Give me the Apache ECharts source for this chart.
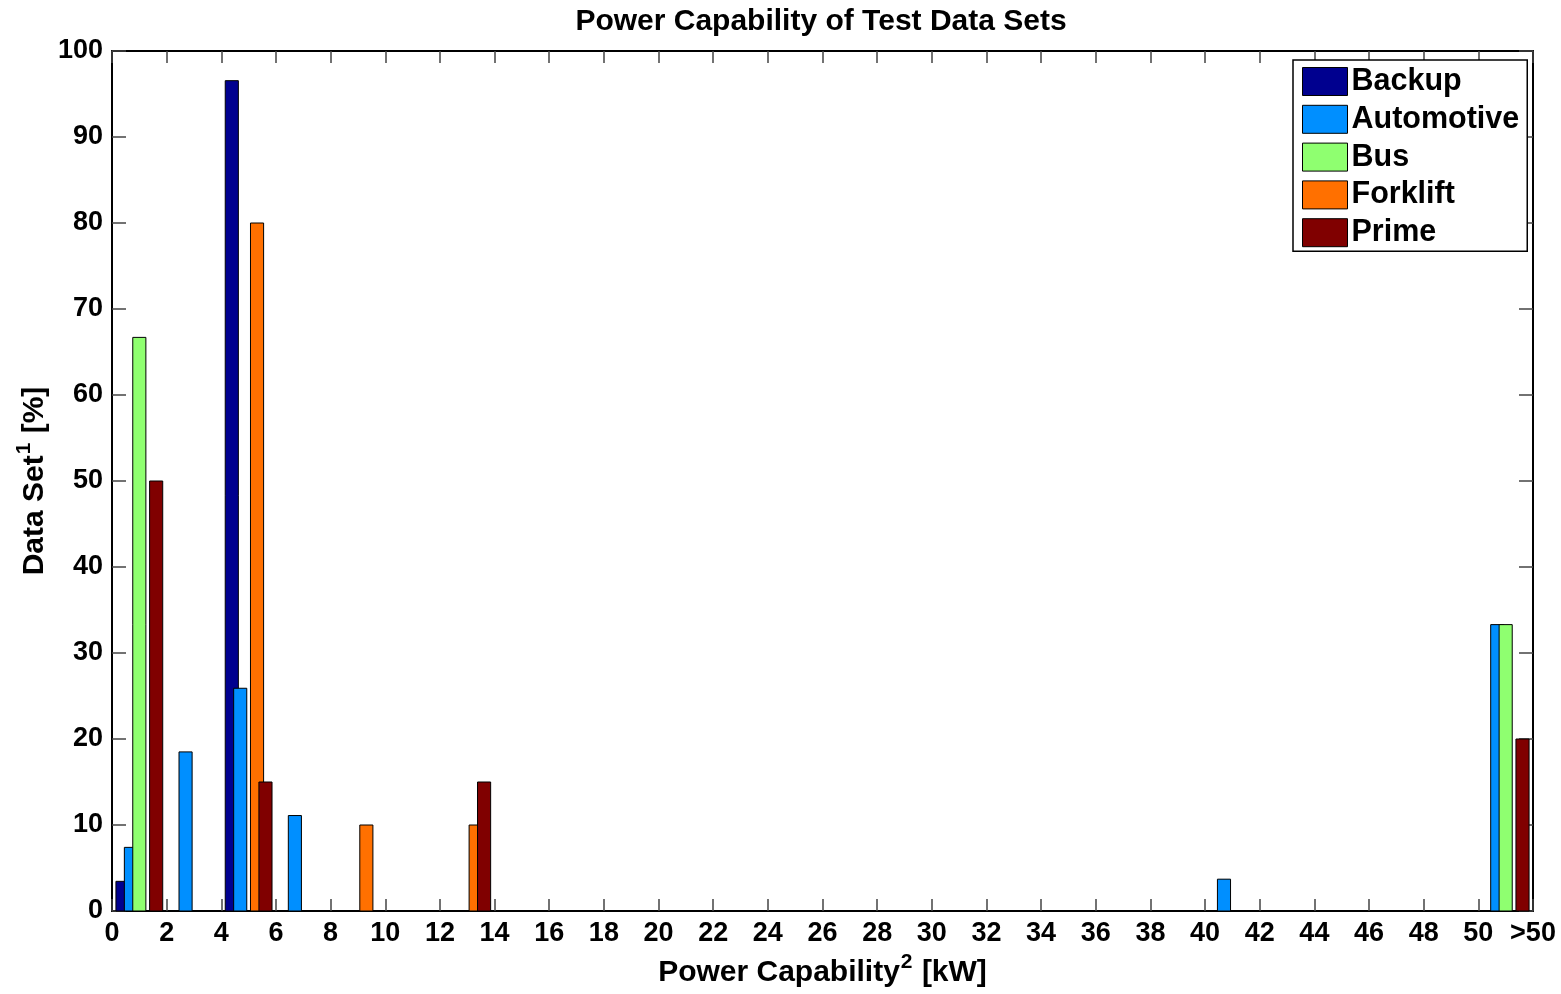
<!DOCTYPE html>
<html>
<head>
<meta charset="utf-8">
<script src="https://cdn.jsdelivr.net/npm/echarts@6/dist/echarts.min.js"></script>
<style>
  html, body { margin: 0; padding: 0; background: #fff; }
  #chart { width: 1561px; height: 994px; }
</style>
</head>
<body>
<div id="chart"></div>
<script>
// bin centres in kW (2 kW bins, last one is ">50")
const bins = [1, 3, 5, 7, 9, 13, 41, 51]
const seriesNames = ['Backup', 'Automotive', 'Bus', 'Forklift', 'Prime']
const backup     = [3.45, 0,    96.55, 0,    0,  0,  0,   0]
const automotive = [7.4,  18.5, 25.9,  11.1, 0,  0,  3.7, 33.3]
const bus        = [66.7, 0,    0,     0,    0,  0,  0,   33.3]
const forklift   = [0,    0,    80,    0,    10, 10, 0,   0]
const prime      = [50,   0,    15,    0,    0,  15, 0,   20]
const colors = ['#00008f', '#008fff', '#8fff70', '#ff7000', '#800000']
const xTicks = [0, 2, 4, 6, 8, 10, 12, 14, 16, 18, 20, 22, 24, 26, 28, 30, 32, 34, 36, 38, 40, 42, 44, 46, 48, 50, '>50']

const allValues = [backup, automotive, bus, forklift, prime]
const groupStep = 0.308
const barWidth = 0.48
const font = 'Liberation Sans, Arial, sans-serif'

const renderBar = (params, api) => {
    const x = api.value(0)
    const y = api.value(1)
    const base = api.coord([x, 0])
    const top = api.coord([x, y])
    const w = api.size([barWidth, 0])[0]
    return {
        type: 'rect',
        shape: { x: top[0] - w / 2, y: top[1], width: w, height: base[1] - top[1] },
        style: api.style({ stroke: '#000', lineWidth: 1 })
    }
}

const series = seriesNames.map((name, i) => {
    const data = []
    bins.forEach((b, j) => {
        if (allValues[i][j] > 0) data.push([b + (i - 2) * groupStep, allValues[i][j]])
    })
    return {
        name: name,
        type: 'custom',
        renderItem: renderBar,
        itemStyle: { color: colors[i] },
        encode: { x: 0, y: 1 },
        data: data,
        z: 2 + i
    }
})

const tickLine = { show: true, inside: true, lineStyle: { color: '#444', width: 1.5 } }
const axisLine = { show: true, onZero: false, lineStyle: { color: '#000', width: 2 } }
// superscript via rich text
const nameStyle = {
    fontFamily: font, fontSize: 30, fontWeight: 'bold', color: '#000',
    rich: {
        b: { fontFamily: font, fontSize: 30, fontWeight: 'bold', color: '#000', verticalAlign: 'bottom', lineHeight: 30 },
        sup: { fontFamily: font, fontSize: 21, fontWeight: 'bold', color: '#000', verticalAlign: 'bottom', lineHeight: 21, padding: [0, 1, 15, 1] }
    }
}

const chart = echarts.init(document.getElementById('chart'))
chart.setOption({
    animation: false,
    backgroundColor: '#fff',
    title: {
        text: 'Power Capability of Test Data Sets',
        left: 816,
        textAlign: 'center',
        top: 2,
        textStyle: { fontFamily: font, fontSize: 30, fontWeight: 'bold', color: '#000' }
    },
    legend: {
        orient: 'vertical',
        left: 1293,
        top: 60,
        padding: [6, 8, 3, 9],
        itemWidth: 45,
        itemHeight: 28,
        itemGap: 6.8,
        icon: 'rect',
        backgroundColor: '#fff',
        borderColor: '#000',
        borderWidth: 1.5,
        borderRadius: 0,
        itemStyle: { borderColor: '#000', borderWidth: 1 },
        textStyle: { fontFamily: font, fontSize: 30.5, fontWeight: 'bold', color: '#000', padding: [0, 0, 0, -1] },
        data: seriesNames
    },
    grid: { left: 112, right: 28, top: 51, bottom: 83 },
    xAxis: [{
        type: 'value',
        min: 0,
        max: 52,
        interval: 2,
        position: 'bottom',
        name: '{b|Power Capability}{sup|2}{b| [kW]}',
        nameLocation: 'middle',
        nameGap: 47,
        nameMoveOverlap: false,
        nameTextStyle: nameStyle,
        axisLine: axisLine,
        axisTick: Object.assign({ length: 12 }, tickLine),
        splitLine: { show: false },
        axisLabel: {
            margin: 9,
            fontFamily: font, fontSize: 27, fontWeight: 'bold', color: '#000',
            formatter: v => xTicks[v / 2]
        }
    }, {
        type: 'value',
        min: 0,
        max: 52,
        interval: 2,
        position: 'top',
        axisLine: axisLine,
        axisTick: Object.assign({ length: 12 }, tickLine),
        splitLine: { show: false },
        axisLabel: { show: false }
    }],
    yAxis: [{
        type: 'value',
        min: 0,
        max: 100,
        interval: 10,
        position: 'left',
        name: '{b|Data Set}{sup|1}{b| [%]}',
        nameLocation: 'middle',
        nameRotate: 90,
        nameGap: 62,
        nameMoveOverlap: false,
        nameTextStyle: nameStyle,
        axisLine: axisLine,
        axisTick: Object.assign({ length: 14 }, tickLine),
        splitLine: { show: false },
        axisLabel: { margin: 9, fontFamily: font, fontSize: 27, fontWeight: 'bold', color: '#000' }
    }, {
        type: 'value',
        min: 0,
        max: 100,
        interval: 10,
        position: 'right',
        axisLine: axisLine,
        axisTick: Object.assign({ length: 14 }, tickLine),
        splitLine: { show: false },
        axisLabel: { show: false }
    }],
    series: series
})
</script>
</body>
</html>
